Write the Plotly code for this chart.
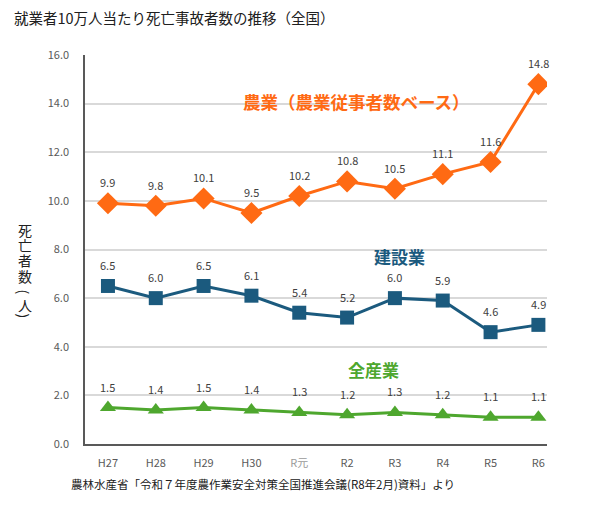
import plotly.graph_objects as go

# 年度
nendo = ['H27', 'H28', 'H29', 'H30', 'R元', 'R2', 'R3', 'R4', 'R5', 'R6']

# 就業者10万人当たり死亡事故者数
nogyo = [9.9, 9.8, 10.1, 9.5, 10.2, 10.8, 10.5, 11.1, 11.6, 14.8]
kensetsu = [6.5, 6.0, 6.5, 6.1, 5.4, 5.2, 6.0, 5.9, 4.6, 4.9]
zensangyo = [1.5, 1.4, 1.5, 1.4, 1.3, 1.2, 1.3, 1.2, 1.1, 1.1]

y_ticks = [0, 2, 4, 6, 8, 10, 12, 14, 16]
# R元 だけ元資料では薄い色
x_ticktext = [t if t != 'R元' else '<span style="color:#9a9a9a">R元</span>' for t in nendo]

ORANGE = '#FF6A13'
BLUE = '#1B5A7E'
GREEN = '#4EA72E'

fig = go.Figure()

series = [
    (nogyo, ORANGE, 'diamond', 17),
    (kensetsu, BLUE, 'square', 14),
    (zensangyo, GREEN, 'triangle-up', 14),
]
for vals, col, sym, sz in series:
    fig.add_trace(go.Scatter(
        x=nendo, y=vals, mode='lines+markers',
        line=dict(color=col, width=3),
        marker=dict(symbol=sym, size=sz, color=col),
        showlegend=False,
    ))
    # データラベル
    for xv, yv in zip(nendo, vals):
        fig.add_annotation(
            x=xv, y=yv, text=f'{yv:.1f}', showarrow=False,
            yshift=21, font=dict(size=11, color='#404040'),
        )

# 系列名
fig.add_annotation(x=5.2, y=14.1, text='<b>農業（農業従事者数ベース）</b>', showarrow=False,
                   font=dict(size=17.5, color=ORANGE))
fig.add_annotation(x=6.1, y=7.7, text='<b>建設業</b>', showarrow=False,
                   font=dict(size=17, color=BLUE))
fig.add_annotation(x=5.55, y=3.08, text='<b>全産業</b>', showarrow=False,
                   font=dict(size=17, color=GREEN))

# タイトル・出典
fig.add_annotation(xref='paper', yref='paper', x=-0.155, y=1.097, borderpad=0,
                   xanchor='left', yanchor='middle', showarrow=False,
                   text='就業者10万人当たり死亡事故者数の推移（全国）',
                   font=dict(size=14.5, color='#202020'))
fig.add_annotation(xref='paper', yref='paper', x=-0.035, y=-0.103,
                   xanchor='left', yanchor='middle', showarrow=False,
                   text='農林水産省「令和７年度農作業安全対策全国推進会議(R8年2月)資料」より',
                   font=dict(size=11.5, color='#202020'))

# 縦書きの軸タイトル（括弧は回転して縦書き用に）
y_title = ['死', '亡', '者', '数', '(', '人', ')']
y_shift = [20, 5, -10, -26, -43, -55, -67]
for ch, sh in zip(y_title, y_shift):
    fig.add_annotation(xref='paper', yref='paper', x=-0.13, y=0.5, yshift=sh,
                       xanchor='center', yanchor='middle', showarrow=False,
                       borderpad=0, text=ch, textangle=90 if ch in '()' else 0,
                       font=dict(size=14, color='#202020'))

fig.update_layout(
    width=599, height=513,
    margin=dict(l=77, r=60, t=47, b=77),
    paper_bgcolor='white', plot_bgcolor='white',
    font=dict(family='Noto Sans CJK JP, Noto Sans, sans-serif'),
    xaxis=dict(
        type='category', range=[-0.48, 9.18],
        tickvals=nendo, ticktext=x_ticktext,
        showgrid=False, showline=True, linecolor='#595959', linewidth=1.5,
        ticks='', ticklabelstandoff=8, tickfont=dict(size=11, color='#595959'),
    ),
    yaxis=dict(
        range=[0, 16], tickvals=y_ticks, tickformat='.1f',
        showgrid=True, gridcolor='#D9D9D9', gridwidth=1.5,
        showline=True, linecolor='#595959', linewidth=1.5,
        zeroline=False, ticks='', ticklabelstandoff=12,
        tickfont=dict(size=11, color='#595959'),
    ),
)

fig.write_html('out.html')
